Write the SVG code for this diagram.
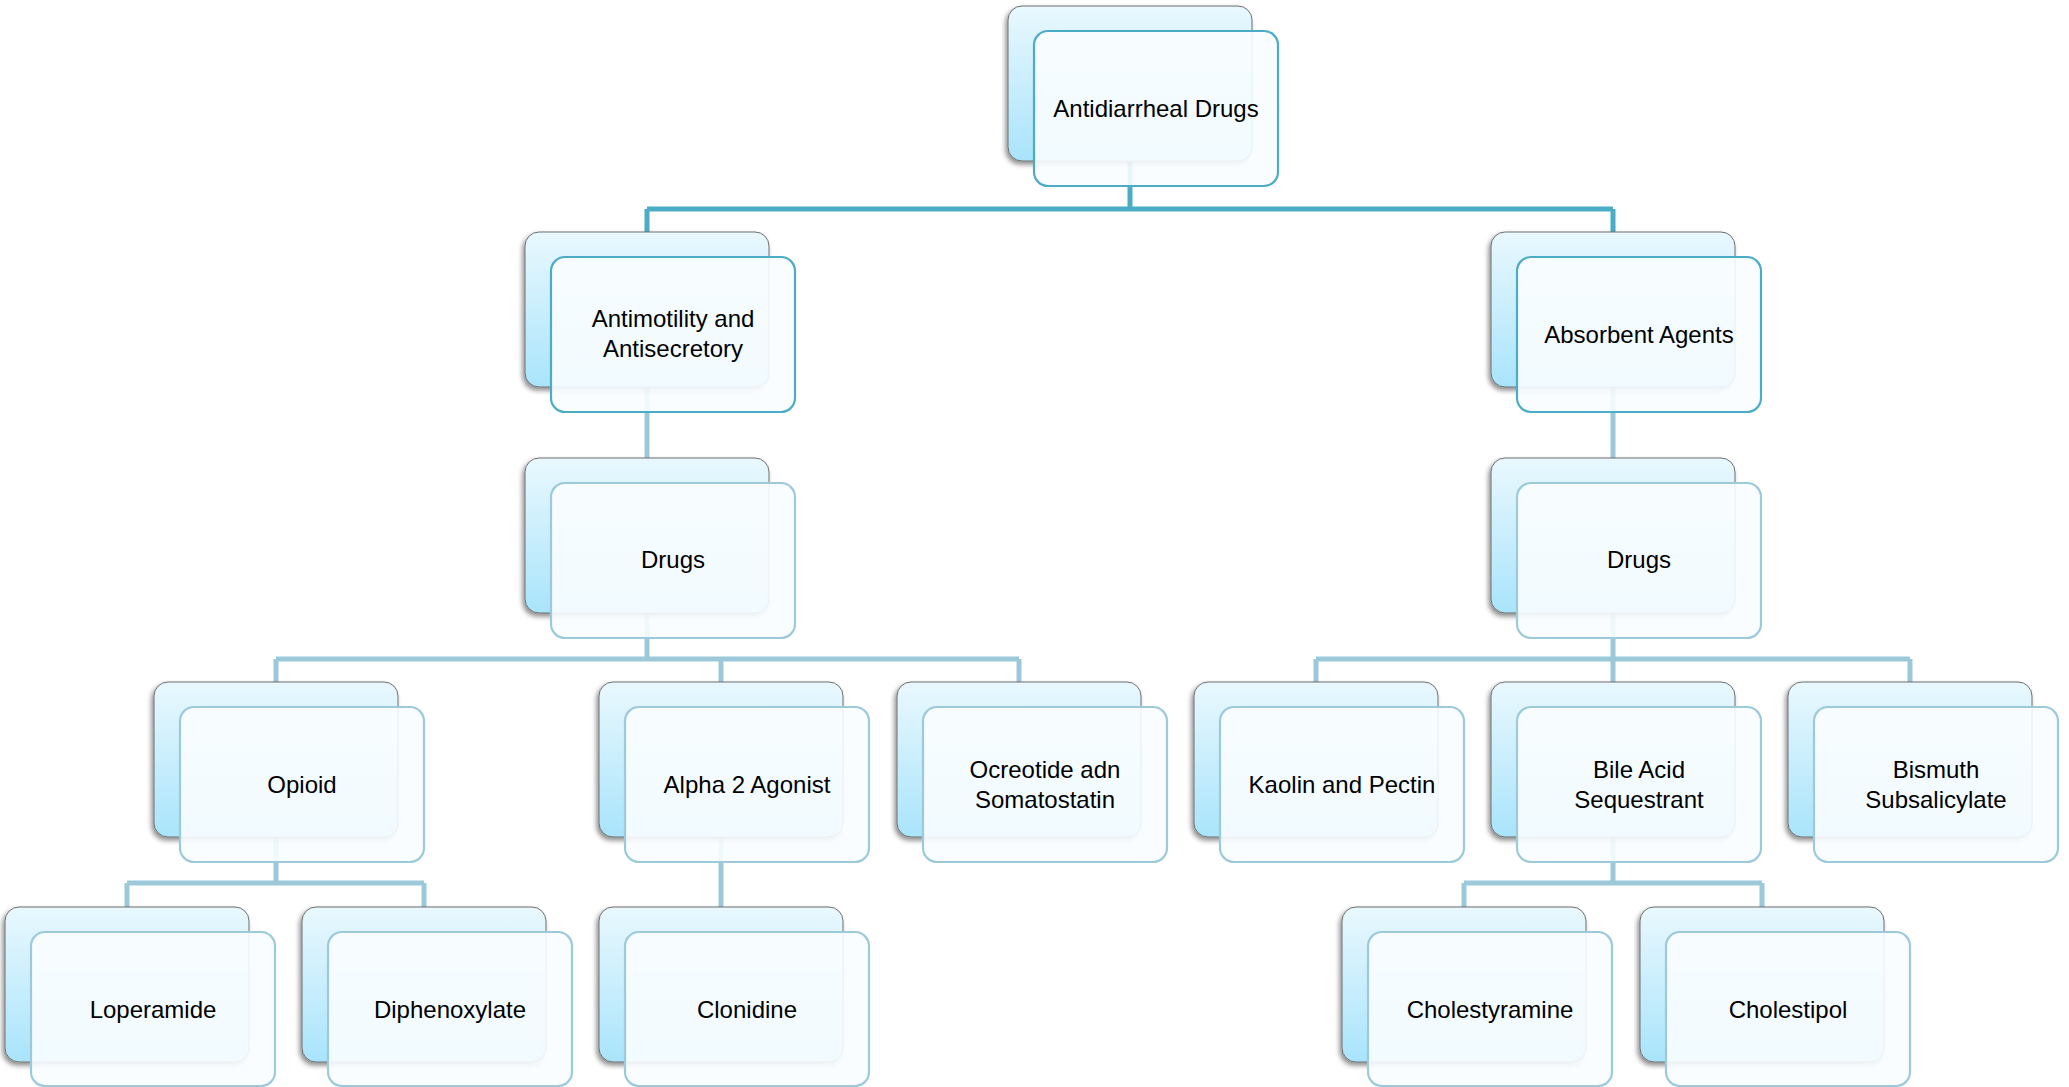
<svg xmlns="http://www.w3.org/2000/svg" width="2069" height="1087" viewBox="0 0 2069 1087">
<defs>
<linearGradient id="g" x1="0" y1="0" x2="0" y2="1">
<stop offset="0" stop-color="#E9F8FE"/>
<stop offset="1" stop-color="#A9E4FB"/>
</linearGradient>
<filter id="sh" x="-10%" y="-10%" width="120%" height="125%">
<feDropShadow dx="-2" dy="3" stdDeviation="2.5" flood-color="#000" flood-opacity="0.45"/>
</filter>
<style>
.bk{fill:url(#g);stroke:#6E6E6E;stroke-width:1;filter:url(#sh)}
.fr{fill:#FAFDFF;fill-opacity:0.9;stroke-width:2.2}
.d .fr{stroke:#4BACC6}
.l .fr{stroke:#9CCADB}
text{font-family:"Liberation Sans",Arial,sans-serif;font-size:24px;fill:#000;text-anchor:middle}
.c1{fill:none;stroke:#4BACC6;stroke-width:5}
.c2{fill:none;stroke:#9CC9DA;stroke-width:5}
</style>
</defs>
<rect width="2069" height="1087" fill="#fff"/>
<g id="connectors">
<path class="c1" d="M1130 162V209M647 209H1613M647 209V232M1613 209V232"/>
<path class="c2" d="M647 386V458M1613 386V458"/>
<path class="c2" d="M647 612V659M276 659H1019M276 659V682M721 659V682M1019 659V682"/>
<path class="c2" d="M1613 612V659M1316 659H1910M1316 659V682M1613 659V682M1910 659V682"/>
<path class="c2" d="M276 836V883M127 883H424M127 883V907M424 883V907"/>
<path class="c2" d="M721 836V907"/>
<path class="c2" d="M1613 836V883M1464 883H1762M1464 883V907M1762 883V907"/>
</g>
<g id="n-root" class="d"><rect class="bk" x="1008" y="6" width="244" height="155" rx="14"/><rect class="fr" x="1034" y="31" width="244" height="155" rx="14"/><text x="1156" y="117">Antidiarrheal Drugs</text></g>
<g id="n-antimotility" class="d"><rect class="bk" x="525" y="232" width="244" height="155" rx="14"/><rect class="fr" x="551" y="257" width="244" height="155" rx="14"/><text x="673" y="327">Antimotility and</text><text x="673" y="357">Antisecretory</text></g>
<g id="n-absorbent" class="d"><rect class="bk" x="1491" y="232" width="244" height="155" rx="14"/><rect class="fr" x="1517" y="257" width="244" height="155" rx="14"/><text x="1639" y="343">Absorbent Agents</text></g>
<g id="n-drugs-l" class="l"><rect class="bk" x="525" y="458" width="244" height="155" rx="14"/><rect class="fr" x="551" y="483" width="244" height="155" rx="14"/><text x="673" y="568">Drugs</text></g>
<g id="n-drugs-r" class="l"><rect class="bk" x="1491" y="458" width="244" height="155" rx="14"/><rect class="fr" x="1517" y="483" width="244" height="155" rx="14"/><text x="1639" y="568">Drugs</text></g>
<g id="n-opioid" class="l"><rect class="bk" x="154" y="682" width="244" height="155" rx="14"/><rect class="fr" x="180" y="707" width="244" height="155" rx="14"/><text x="302" y="793">Opioid</text></g>
<g id="n-alpha2" class="l"><rect class="bk" x="599" y="682" width="244" height="155" rx="14"/><rect class="fr" x="625" y="707" width="244" height="155" rx="14"/><text x="747" y="793">Alpha 2 Agonist</text></g>
<g id="n-ocreotide" class="l"><rect class="bk" x="897" y="682" width="244" height="155" rx="14"/><rect class="fr" x="923" y="707" width="244" height="155" rx="14"/><text x="1045" y="778">Ocreotide adn</text><text x="1045" y="808">Somatostatin</text></g>
<g id="n-kaolin" class="l"><rect class="bk" x="1194" y="682" width="244" height="155" rx="14"/><rect class="fr" x="1220" y="707" width="244" height="155" rx="14"/><text x="1342" y="793">Kaolin and Pectin</text></g>
<g id="n-bile" class="l"><rect class="bk" x="1491" y="682" width="244" height="155" rx="14"/><rect class="fr" x="1517" y="707" width="244" height="155" rx="14"/><text x="1639" y="778">Bile Acid</text><text x="1639" y="808">Sequestrant</text></g>
<g id="n-bismuth" class="l"><rect class="bk" x="1788" y="682" width="244" height="155" rx="14"/><rect class="fr" x="1814" y="707" width="244" height="155" rx="14"/><text x="1936" y="778">Bismuth</text><text x="1936" y="808">Subsalicylate</text></g>
<g id="n-loperamide" class="l"><rect class="bk" x="5" y="907" width="244" height="155" rx="14"/><rect class="fr" x="31" y="932" width="244" height="154" rx="14"/><text x="153" y="1018">Loperamide</text></g>
<g id="n-diphenoxylate" class="l"><rect class="bk" x="302" y="907" width="244" height="155" rx="14"/><rect class="fr" x="328" y="932" width="244" height="154" rx="14"/><text x="450" y="1018">Diphenoxylate</text></g>
<g id="n-clonidine" class="l"><rect class="bk" x="599" y="907" width="244" height="155" rx="14"/><rect class="fr" x="625" y="932" width="244" height="154" rx="14"/><text x="747" y="1018">Clonidine</text></g>
<g id="n-cholestyramine" class="l"><rect class="bk" x="1342" y="907" width="244" height="155" rx="14"/><rect class="fr" x="1368" y="932" width="244" height="154" rx="14"/><text x="1490" y="1018">Cholestyramine</text></g>
<g id="n-cholestipol" class="l"><rect class="bk" x="1640" y="907" width="244" height="155" rx="14"/><rect class="fr" x="1666" y="932" width="244" height="154" rx="14"/><text x="1788" y="1018">Cholestipol</text></g>
</svg>
